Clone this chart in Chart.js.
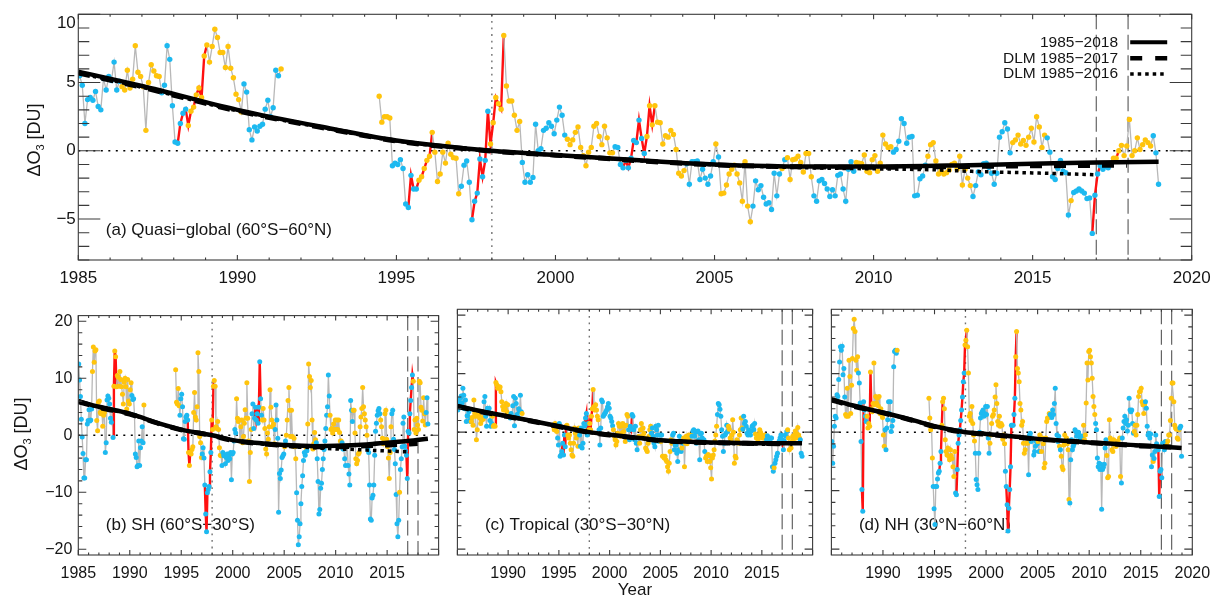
<!DOCTYPE html>
<html><head><meta charset="utf-8">
<script src="https://cdn.jsdelivr.net/npm/chart.js@4.4.1/dist/chart.umd.min.js"></script>
<style>
html,body{margin:0;padding:0;background:#fff;}
#wrap{position:relative;width:1220px;height:602px;overflow:hidden;background:#fff;}
canvas{position:absolute;}
</style></head><body>
<div id="wrap">
<canvas id="ca" width="1220" height="300" style="left:0;top:0;width:1220px;height:300px"></canvas>
<canvas id="cb" width="448" height="302" style="left:0;top:300px;width:448px;height:302px"></canvas>
<canvas id="cc" width="374" height="302" style="left:448px;top:300px;width:374px;height:302px"></canvas>
<canvas id="cd" width="398" height="302" style="left:822px;top:300px;width:398px;height:302px"></canvas>
</div>
<script>
// ---------------- DATA ----------------
const FIRST_YEAR = 1985;
const LATE_START = 113;           // first month index after the data gap
const xTickYears = [1985,1990,1995,2000,2005,2010,2015,2020];
const yTicksTop = [-5,0,5,10];
const yTicksBottom = [-20,-10,0,10,20];
const vLineDotted = [1998];
const vLinesDashed = [2017,2018];

// months (index from Jan 1985) drawn in yellow; all others blue
const yellowRanges = [[16,30],[41,61],[76,76],[113,117],[128,143],[155,166],[184,201],[214,228],[240,240],[242,253],[265,265],[267,276],[293,306],[320,336],[352,364],[374,374],[390,404]];

// red segments (month index ranges)
const redA = [[37,48],[124,133],[148,160],[205,217],[382,392]];
const redB = [[40,44],[126,131],[147,158],[205,212],[382,390]];
const redC = [[44,46],[123,128],[150,160],[204,206],[383,385]];
const redD = [[35,37],[44,46],[124,130],[145,157],[203,215],[380,384]];

// (a) quasi-global, monthly anomalies
const aEarly = [5.5,4.8,2.0,3.75,3.9,3.7,4.35,3.25,3.0,5.3,4.45,5.45,
 5.15,6.5,4.45,5.1,4.7,4.45,5.9,4.6,5.25,7.7,5.75,5.45,
 4.7,1.5,5.0,6.3,5.85,5.5,5.45,4.25,4.8,7.7,6.7,3.3,
 0.65,0.55,2.0,2.75,3.05,1.85,2.9,3.2,4.1,4.6,3.9,6.95,
 7.75,6.5,7.65,8.9,8.3,7.2,7.2,6.1,7.65,6.05,5.35,4.15,
 3.75,2.85,4.9,4.3,1.55,0.8,1.75,1.45,1.8,1.95,3.05,3.7,
 2.5,3.15,5.9,5.5,6.0];
const aLate = [4.0,2.1,2.5,2.5,2.4,-1.1,-0.9,
 -1.0,-0.65,-1.3,-3.9,-4.15,-1.8,-2.8,-2.8,-2.15,-1.9,-1.3,-0.7,
 -0.4,1.35,-0.1,-2.25,-1.7,-0.1,-0.9,0.55,-0.25,-0.5,-0.55,-3.15,
 -2.6,-1.05,-0.75,-2.3,-5.05,-3.7,-3.1,-0.6,-1.9,-0.7,2.9,0.5,
 2.05,3.9,3.45,3.05,8.45,4.75,3.65,3.65,2.6,1.5,2.15,-0.85,
 -2.3,-1.75,-2.3,-1.95,1.95,0.0,0.15,1.5,1.65,2.05,1.8,1.25,
 2.25,3.2,2.6,1.15,0.85,0.45,0.8,1.35,1.75,0.25,-0.35,-1.1,
 -0.1,0.25,1.8,2.0,1.05,0.45,1.8,0.95,-0.15,-0.15,0.3,0.25,
 -1.0,-1.25,-0.7,-1.25,-0.55,0.75,0.6,2.25,0.9,-0.2,1.05,3.3,
 1.9,3.3,2.1,2.05,0.5,1.1,1.0,1.5,1.2,0.1,-1.65,-1.85,
 -1.45,-0.95,-2.45,-0.8,-0.8,-0.75,-2.1,-1.35,-2.0,-2.45,-1.85,-0.8,
 0.5,-0.45,-3.15,-3.1,-2.5,-1.7,-1.35,-1.05,-1.7,-2.35,-3.7,-0.8,
 -4.05,-5.2,-4.05,-2.2,-2.85,-2.55,-3.4,-3.9,-3.8,-4.3,-1.65,-3.3,
 -1.7,-1.3,-0.65,-0.5,-2.1,-0.65,-0.6,-0.4,-0.85,-1.55,-0.2,-0.2,
 -1.9,-3.3,-3.7,-2.2,-2.1,-2.4,-2.8,-3.35,-2.85,-3.3,-1.8,-1.7,
 -2.8,-3.7,-1.35,-0.8,-1.5,-0.85,-0.9,-0.95,-0.3,-1.5,-1.6,-0.65,
 -0.35,-1.5,-0.9,1.15,0.5,0.25,0.3,-0.1,0.1,0.7,2.35,2.0,
 0.55,1.0,1.05,-3.3,-3.25,-2.05,-1.85,-1.05,-0.4,0.45,0.6,-0.75,
 -1.7,-1.5,-1.7,-1.6,-1.4,-1.0,-0.9,-1.35,-0.4,-2.5,-1.35,-2.0,
 -2.55,-3.35,-2.55,-1.55,-1.75,-0.95,-0.9,-1.2,-1.65,-2.45,-1.65,1.0,
 1.4,2.05,1.6,-0.15,0.6,0.8,1.15,0.5,0.75,0.4,1.0,1.65,
 0.65,2.5,1.75,0.25,1.15,0.95,-0.1,-1.9,-2.1,-1.3,-0.7,-1.5,
 -1.6,-4.7,-3.65,-3.05,-2.95,-2.8,-2.95,-3.1,-3.5,-3.45,-6.05,-3.25,
 -1.7,-1.1,-1.35,-1.15,-1.25,-0.9,-0.55,-0.55,0.0,0.4,-0.35,0.35,
 2.3,-0.35,0.0,0.95,0.1,0.45,0.8,0.6,0.35,1.1,-0.15,-2.45];

// (b) SH 60S-30S
const bEarly = [12.5,9.7,6.8,2.8,-0.3,-3.2,-7.5,-7.5,-4.3,-4.3,2.0,2.6,
 4.5,2.5,2.7,4.6,11.2,15.5,12.8,14.8,15.0,2.6,0.8,5.8,
 6.0,4.0,3.8,4.2,1.6,3.5,4.0,-3.0,-1.3,6.2,6.9,6.5,
 5.5,3.0,2.3,4.5,-0.4,8.6,14.8,13.8,8.5,10.5,10.2,8.6,
 11.2,9.8,8.5,7.2,5.5,9.3,10.0,8.5,4.6,9.8,6.0,5.5,
 8.0,9.2,7.0,6.3,6.4,3.5,-3.3,-3.9,-5.5,-5.3,-1.0,-5.3,
 -2.2,-1.0,1.5,-1.3,5.3];
const bLate = [11.5,5.8,5.5,8.2,5.2,3.5,6.4,
 7.2,5.0,-0.6,-0.7,2.4,3.2,3.5,2.7,-3.0,-5.3,-3.0,-3.3,
 -2.5,-2.0,4.0,7.5,3.2,2.7,5.0,14.5,11.2,-0.2,-1.3,-3.9,
 -3.3,-2.2,-4.0,-8.7,-13.8,-16.9,-10.1,-9.5,-9.0,-6.4,-3.0,2.7,
 1.0,8.6,9.6,8.6,1.5,1.2,2.4,1.0,-2.2,-3.5,-3.6,-5.3,
 -3.0,-3.6,-3.6,-5.0,-3.9,-3.3,-4.4,-3.6,-4.1,-3.0,-7.8,-3.3,
 -3.0,-1.0,1.0,0.4,6.4,3.0,2.4,2.7,-1.0,1.5,2.7,-1.3,
 -0.2,2.1,4.5,3.0,9.2,3.0,-1.0,-8.1,-3.0,1.0,3.8,5.5,
 1.2,3.0,4.9,2.7,3.8,2.1,4.9,12.9,6.4,3.5,2.7,4.7,
 2.7,1.2,-2.4,-3.3,0.4,-0.7,1.5,8.0,4.9,2.7,1.5,2.0,
 -1.5,1.0,5.3,2.7,-0.5,-13.5,-6.7,-7.6,-6.1,-3.9,-3.6,-3.3,
 -2.0,-1.0,0.0,2.7,6.1,8.4,4.4,-0.2,4.4,-0.2,-1.9,-0.5,
 -2.0,-4.1,-10.1,-14.9,-19.2,-17.8,-15.5,-12.0,-9.0,-7.1,-4.4,-3.0,
 -3.5,-2.2,-2.7,2.0,12.5,10.3,8.4,9.6,2.7,-2.4,-1.5,0.5,
 -0.8,-1.3,-4.1,-8.1,-13.8,-13.0,-9.3,-8.4,-6.0,-4.1,-2.5,-1.0,
 1.2,3.5,5.0,10.6,6.9,3.5,1.0,1.2,0.4,2.0,1.0,2.7,
 1.0,2.7,1.0,2.7,0.5,-1.0,-1.0,-1.3,-2.4,-2.4,-4.1,-5.3,
 -1.9,-1.9,-5.3,-6.8,-8.7,6.1,4.4,2.4,4.4,4.4,0.4,-4.1,
 -5.0,-4.4,-3.3,-3.0,1.5,3.2,4.7,8.4,5.0,3.8,2.7,1.5,
 0.0,-2.4,-3.0,-8.7,-14.7,-14.9,-11.0,-10.5,-8.7,-3.5,0.7,2.1,
 3.5,4.3,4.7,3.8,2.7,1.5,-0.5,-1.5,-0.7,3.8,4.4,-0.7,
 -2.0,-4.0,-7.6,-3.0,1.5,3.8,4.4,-0.7,-2.5,-5.0,-10.4,-15.5,
 -17.8,-14.9,-10.0,-6.0,-4.1,-2.0,2.1,3.2,-1.9,-2.7,-3.5,-7.6,
 0.7,0.4,3.8,6.1,8.4,10.6,9.5,1.0,2.7,0.4,3.0,1.8,
 1.0,9.5,9.2,4.9,4.4,2.5,6.6,3.8,1.8,4.0,6.6,2.0];

// (c) Tropical 30S-30N
const cEarly = [3.8,5.2,4.5,5.8,6.2,5.0,7.5,6.3,4.0,5.5,1.8,2.8,
 2.7,3.5,2.0,1.8,1.8,2.5,1.2,5.5,3.2,2.7,-1.3,0.4,
 2.7,3.0,2.4,1.5,2.0,2.5,2.2,5.2,6.1,2.7,1.0,4.1,
 3.5,4.1,2.0,1.0,1.5,2.7,1.0,1.2,1.0,8.5,8.1,7.5,
 7.8,7.5,7.7,6.9,5.2,4.4,3.8,4.4,4.0,4.9,3.5,4.7,
 2.7,3.0,2.4,3.2,2.7,4.5,6.1,1.1,5.8,4.9,3.0,2.6,
 4.0,3.5,6.3,3.5,3.2];
const cLate = [1.0,0.4,1.5,0.7,0.1,-1.0,-2.2,
 1.5,-4.1,-3.9,-3.3,-1.9,-3.9,-0.5,-2.5,1.0,1.2,-0.5,-1.0,
 -0.5,-1.9,-3.0,-3.9,-4.1,-1.9,0.7,-0.2,-1.0,-0.5,-2.4,0.7,
 -0.5,-2.4,0.7,-2.7,-1.9,1.5,1.0,2.4,3.2,-0.5,1.5,0.4,
 1.5,0.4,2.7,4.0,7.3,4.4,3.8,4.7,3.8,2.7,2.1,0.4,
 -2.2,0.7,5.5,5.2,2.7,3.0,3.2,3.5,3.8,4.3,4.9,4.1,
 2.7,2.4,1.8,1.1,0.4,-0.7,-1.3,-2.2,-1.6,-0.2,1.5,1.0,
 -0.7,1.0,-0.2,1.5,0.1,1.0,-1.6,1.2,3.0,2.7,0.4,-1.3,
 1.0,0.5,3.0,2.7,0.4,-1.3,1.0,-1.9,-3.0,-1.0,-0.7,-1.9,
 0.4,1.5,-0.7,0.7,-0.2,-1.0,-2.7,-3.0,-3.3,-1.9,-0.7,0.4,
 1.0,-0.2,0.7,-0.7,-1.9,-2.5,1.0,0.4,-0.5,1.2,-1.6,-0.5,
 -1.6,-0.5,-4.1,-4.1,-4.4,-4.1,-4.7,-5.0,-5.9,-6.7,-5.3,-3.3,
 -1.3,-1.9,-0.5,-0.2,-3.0,-2.2,-2.2,-3.6,-5.0,-3.0,-0.7,-1.5,
 -3.3,-2.7,-1.9,-1.0,-5.9,-1.9,-0.7,-2.0,-1.0,-0.5,-1.5,-0.7,
 -0.5,-0.7,0.2,0.4,-0.7,0.0,-1.9,0.1,0.2,-1.3,-4.7,-0.3,
 -0.2,-1.0,-1.5,-1.3,-3.3,-4.4,-4.1,-5.0,-3.8,-4.0,-5.0,-6.1,
 -8.0,-4.4,-3.9,-3.0,-1.5,-0.5,1.0,3.0,4.9,4.7,3.9,2.7,
 0.4,-0.7,-3.3,-1.9,-0.5,-0.2,1.2,0.1,1.0,0.5,-1.0,-1.3,
 -0.5,2.1,0.0,-5.3,-4.1,-4.4,-1.3,-1.6,-1.9,-0.5,0.4,2.4,
 0.7,0.5,2.7,1.5,1.8,1.0,-0.2,-0.5,0.4,0.0,-0.5,0.2,
 1.0,1.2,0.4,1.5,-0.3,-1.0,-0.5,-1.3,-0.6,0.4,0.0,-0.5,
 -1.0,-0.8,-1.0,-0.5,-0.8,-1.3,-0.6,-0.9,-1.0,-1.2,-1.0,-1.0,
 -5.9,-6.7,-6.1,-5.3,-4.7,-4.1,-3.6,-1.9,-1.5,-1.0,-0.5,-1.2,
 -1.6,-3.0,-1.5,-0.5,-0.7,0.1,0.4,-1.0,-3.0,-1.9,-2.7,-1.6,
 -0.7,-1.2,-0.5,0.2,-1.0,-0.3,0.8,-0.5,-1.0,-1.3,-3.6,-4.1];

// (d) NH 30N-60N
const dEarly = [-1.6,-5.3,-2.4,1.0,2.7,2.4,6.4,6.1,9.0,12.0,14.6,14.0,
 14.7,9.8,10.9,6.0,3.0,2.7,7.5,2.7,12.3,9.5,3.2,8.0,
 12.6,17.7,19.3,17.2,12.3,10.6,12.9,10.1,8.4,5.0,-1.6,-9.8,
 -13.5,5.2,3.8,2.7,1.8,2.7,0.7,1.5,1.0,10.3,4.0,3.5,
 4.9,11.8,4.7,6.1,5.0,5.8,4.5,6.1,3.2,4.0,3.0,2.5,
 -0.5,-2.4,0.4,-3.0,0.7,2.1,5.2,3.2,5.2,0.1,1.0,2.0,
 11.2,13.8,14.0,13.5,14.0];
const dLate = [5.8,2.4,0.4,1.0,-4.4,-9.3,-13.1,
 -15.8,-9.3,-9.3,-8.0,-7.0,-6.7,-5.3,-3.3,1.2,5.2,5.8,4.0,
 -1.3,-3.3,-3.9,-2.7,-4.1,-4.7,-3.0,-4.0,-4.5,-5.9,-7.6,-3.3,
 -10.4,-10.7,-6.4,-1.9,-0.5,0.4,2.0,3.8,6.0,8.6,10.1,14.9,
 15.7,17.4,14.6,10.1,2.7,3.2,2.0,4.4,1.5,-0.5,-1.5,-3.6,
 -8.1,-9.0,-9.8,-3.6,0.0,2.4,3.2,3.5,3.8,2.7,3.2,4.4,
 3.0,4.4,-1.0,-3.6,-1.9,-0.5,1.5,2.7,3.0,3.8,6.0,8.1,
 4.9,1.8,1.2,2.7,1.0,1.5,1.2,-1.2,-0.5,-2.0,-6.7,-9.3,
 -12.4,-16.9,-13.0,-9.8,-5.9,1.2,1.2,1.2,3.0,5.8,12.9,17.2,
 10.9,10.1,8.6,4.9,3.8,1.2,1.8,-1.9,-3.6,-3.0,-1.9,-1.0,
 -1.9,-7.3,-0.5,-0.2,-1.6,-1.0,-1.2,-3.9,-3.3,-2.4,-1.6,-2.0,
 -1.6,-3.3,-0.5,-1.0,-3.3,-1.0,-2.0,-6.1,-5.3,-1.0,1.8,2.4,
 2.4,3.2,3.0,3.0,2.5,3.8,3.0,4.9,7.5,1.5,-0.5,-1.6,
 -0.7,-2.4,-3.0,-4.1,-5.9,-6.4,-2.2,-0.5,-1.9,-1.0,-2.0,-3.0,
 -11.5,-12.1,-4.7,-1.3,-3.0,-2.4,-2.0,0.4,0.1,-0.7,-0.2,0.0,
 -0.5,-1.0,-0.7,-1.0,-0.7,1.2,-1.3,-0.5,5.0,11.8,8.9,13.8,
 14.0,12.9,11.8,9.2,6.1,4.4,3.0,1.5,0.4,-4.4,-5.9,-5.3,
 -6.4,-5.5,-13.2,-6.4,-6.0,-5.5,-2.7,-1.3,-4.0,-7.8,-7.6,2.1,
 -1.0,-1.6,-3.0,-3.3,-1.3,-2.2,-2.4,-2.4,-2.0,-1.5,-2.0,-1.0,
 -7.6,-8.7,-1.0,0.7,1.8,2.7,1.5,2.1,0.2,1.2,5.8,3.8,
 3.5,3.8,1.5,-0.2,0.1,1.2,-0.5,1.2,3.0,6.1,6.9,7.0,
 7.5,5.2,4.7,3.2,4.7,5.2,4.1,1.0,-0.5,-0.2,-1.0,-0.3,
 -5.9,-3.9,-5.0,-4.5,-3.3,-0.5,-2.0,-2.5,-3.0,-11.0,-6.7,-6.4,
 -7.8,-1.9,-2.0,-3.0,-1.6,-1.9,-2.2,-1.5,-0.5,-0.5,2.0,5.8,
 8.4,8.4,5.2,1.2,0.7,0.5,-1.0,-1.2,0.4,0.7,1.0,-4.1];

// fitted trends (solid 1985-2018, dashed DLM 1985-2017, dotted DLM 1985-2016)
const trendYears = [1985,1987,1990,1993,1995,1998,2000,2003,2005,2008,2010,2013,2015,2017,2018.96];
const dashYears  = [1985,1987,1990,1993,1995,1998,2000,2003,2005,2008,2010,2013,2015,2017.96];
const dotYears   = [1985,1987,1990,1993,1995,1998,2000,2003,2005,2008,2010,2012,2013,2015,2016.96];
const aSolid = [5.8,4.75,3.0,1.6,0.75,0.0,-0.3,-0.75,-1.0,-1.15,-1.15,-1.05,-0.95,-0.85,-0.8];
const aDash  = [5.7,4.65,2.92,1.55,0.72,-0.02,-0.32,-0.78,-1.03,-1.18,-1.2,-1.15,-1.1,-1.05];
const aDot   = [5.7,4.65,2.92,1.55,0.72,-0.02,-0.32,-0.78,-1.03,-1.25,-1.32,-1.4,-1.5,-1.62,-1.75];
const bSolid = [6.0,5.0,3.8,2.0,1.0,0.0,-0.85,-1.45,-1.7,-1.9,-1.85,-1.6,-1.3,-1.0,-0.6];
const bDash  = [5.9,4.9,3.7,1.95,0.95,-0.05,-0.9,-1.5,-1.8,-2.0,-2.0,-1.85,-1.7,-1.45];
const bDot   = [5.9,4.9,3.7,1.95,0.95,-0.05,-0.9,-1.55,-1.9,-2.2,-2.4,-2.5,-2.6,-2.75,-2.9];
const cSolid = [4.5,3.7,2.7,1.7,1.0,0.0,-0.45,-1.0,-1.4,-1.65,-1.75,-1.85,-1.9,-1.9,-1.9];
const cDash  = [4.4,3.6,2.65,1.65,0.95,-0.05,-0.5,-1.05,-1.45,-1.7,-1.8,-1.9,-1.95,-2.0];
const cDot   = [4.4,3.6,2.65,1.65,0.95,-0.05,-0.5,-1.05,-1.45,-1.75,-1.85,-1.95,-2.0,-2.05,-2.1];
const dSolid = [5.6,4.6,3.35,2.0,1.0,0.0,-0.3,-0.8,-1.15,-1.5,-1.75,-2.05,-2.3,-2.5,-2.7];
const dDash  = [5.5,4.5,3.3,1.95,0.95,-0.05,-0.35,-0.85,-1.2,-1.55,-1.8,-2.1,-2.35,-2.55];
const dDot   = [5.5,4.5,3.3,1.95,0.95,-0.05,-0.35,-0.85,-1.2,-1.6,-1.85,-2.0,-2.1,-2.35,-2.5];

const legendLabels = ['1985\u22122018','DLM 1985\u22122017','DLM 1985\u22122016'];
const panelLabels = ['(a) Quasi\u2212global (60\u00B0S\u221260\u00B0N)','(b) SH (60\u00B0S\u221230\u00B0S)','(c) Tropical (30\u00B0S\u221230\u00B0N)','(d) NH (30\u00B0N\u221260\u00B0N)'];

// ---------------- DRAWING ----------------
const FONT = '"Liberation Sans", Arial, Helvetica, sans-serif';
const BLUE = '#1DB9F0', YELLOW = '#FFC40C', GRAY = '#B8B8B8', RED = '#FF1010', INK = '#151515';
Chart.defaults.font.family = FONT;

function monthX(i){ return FIRST_YEAR + (i + 0.5) / 12; }
function buildSeries(early, late){
  const pts = [];
  const last = LATE_START + late.length - 1;
  for (let i = 0; i <= last; i++){
    let y = null;
    if (i < early.length) y = early[i];
    else if (i >= LATE_START) y = late[i - LATE_START];
    pts.push({x: monthX(i), y: y});
  }
  return pts;
}
function inRanges(r, i){ return r.some(function(p){ return i >= p[0] && i <= p[1]; }); }
function pairs(xs, ys){ return ys.map(function(v, k){ return {x: xs[k], y: v}; }); }

function trendSets(solid, dash, dot){
  return [
    {data: pairs(trendYears, solid), borderColor:'#000', borderWidth:4.5, pointRadius:0, cubicInterpolationMode:'monotone', borderCapStyle:'butt', order:0},
    {data: pairs(dashYears, dash), borderColor:'#000', borderWidth:5, borderDash:[12,12], pointRadius:0, cubicInterpolationMode:'monotone', borderCapStyle:'butt', order:1},
    {data: pairs(dotYears, dot), borderColor:'#000', borderWidth:3.5, borderDash:[3.5,4], pointRadius:0, cubicInterpolationMode:'monotone', borderCapStyle:'butt', order:2}
  ];
}
function dataSet(early, late, reds, radius){
  const pts = buildSeries(early, late);
  const cols = pts.map(function(p, i){ return inRanges(yellowRanges, i) ? YELLOW : BLUE; });
  function isRed(c){ return reds.some(function(p){ return c.p0DataIndex >= p[0] && c.p1DataIndex <= p[1]; }); }
  return {
    data: pts, borderColor: GRAY, borderWidth: 1.3, spanGaps: false,
    pointRadius: radius, pointHoverRadius: 0, pointBorderWidth: 0,
    pointBackgroundColor: cols, pointBorderColor: cols,
    segment: {
      borderColor: function(c){ return isRed(c) ? RED : GRAY; },
      borderWidth: function(c){ return isRed(c) ? 2.4 : 1.3; }
    },
    order: 10
  };
}

function drawYTitle(ctx, cx, cy, size){
  ctx.save();
  ctx.translate(cx, cy); ctx.rotate(-Math.PI/2);
  const f = size + 'px ' + FONT, fs = Math.round(size*0.62) + 'px ' + FONT;
  ctx.font = f; const w1 = ctx.measureText('\u0394O').width; const w3 = ctx.measureText(' [DU]').width;
  ctx.font = fs; const w2 = ctx.measureText('3').width;
  let xx = -(w1 + w2 + w3)/2;
  ctx.fillStyle = INK; ctx.textBaseline = 'middle'; ctx.textAlign = 'left';
  ctx.font = f; ctx.fillText('\u0394O', xx, 0); xx += w1;
  ctx.font = fs; ctx.fillText('3', xx, size*0.33); xx += w2;
  ctx.font = f; ctx.fillText(' [DU]', xx, 0);
  ctx.restore();
}

function decor(o){
  return {
    id: 'decor',
    beforeDatasetsDraw: function(chart){
      const ctx = chart.ctx, a = chart.chartArea, x = chart.scales.x, y = chart.scales.y;
      ctx.save();
      ctx.beginPath(); ctx.rect(a.left, a.top, a.right - a.left, a.bottom - a.top); ctx.clip();
      // panel label
      ctx.fillStyle = INK; ctx.font = '17px ' + FONT; ctx.textAlign = 'left'; ctx.textBaseline = 'middle';
      ctx.fillText(o.label, a.left + 27.5, a.bottom - 29.5);
      // zero line
      const y0 = y.getPixelForValue(0);
      ctx.strokeStyle = '#000'; ctx.lineWidth = 1.5; ctx.setLineDash([2, 5.5]);
      ctx.beginPath(); ctx.moveTo(a.left, y0); ctx.lineTo(a.right, y0); ctx.stroke();
      // dotted vertical
      ctx.strokeStyle = '#707070'; ctx.lineWidth = 1.4; ctx.setLineDash([1.8, 4.8]);
      vLineDotted.forEach(function(v){ const px = x.getPixelForValue(v); ctx.beginPath(); ctx.moveTo(px, a.top); ctx.lineTo(px, a.bottom); ctx.stroke(); });
      // dashed verticals
      ctx.strokeStyle = '#555'; ctx.lineWidth = 1.1; ctx.setLineDash([15, 5.5]);
      vLinesDashed.forEach(function(v){ const px = x.getPixelForValue(v); ctx.beginPath(); ctx.moveTo(px, a.top); ctx.lineTo(px, a.bottom); ctx.stroke(); });
      ctx.restore();
    },
    afterDatasetsDraw: function(chart){
      const ctx = chart.ctx, a = chart.chartArea, x = chart.scales.x, y = chart.scales.y;
      ctx.save();
      ctx.setLineDash([]);
      ctx.strokeStyle = '#3a3a3a'; ctx.lineWidth = 1.1;
      ctx.strokeRect(a.left, a.top, a.right - a.left, a.bottom - a.top);
      ctx.beginPath();
      // x ticks (every year, major every 5)
      for (let yr = 1985; yr <= 2020; yr++){
        const px = x.getPixelForValue(yr);
        const L = (yr % 5 === 0) ? o.xMaj : o.xMin;
        ctx.moveTo(px, a.bottom); ctx.lineTo(px, a.bottom - L);
        ctx.moveTo(px, a.top); ctx.lineTo(px, a.top + L);
      }
      // y ticks
      for (let v = o.yMin; v <= o.yMax + 1e-9; v += o.yMinor){
        const py = y.getPixelForValue(v);
        const L = (Math.abs(v % o.yMajor) < 1e-9) ? o.yMajL : o.yMinL;
        ctx.moveTo(a.left, py); ctx.lineTo(a.left + L, py);
        ctx.moveTo(a.right, py); ctx.lineTo(a.right - L, py);
      }
      ctx.stroke();
      if (o.legend){
        const tx = a.right - 73.7, x1 = a.right - 61.5, x2 = a.right - 24.5;
        const rows = [a.top + 28, a.top + 44, a.top + 59.7];
        ctx.fillStyle = INK; ctx.font = '15.5px ' + FONT; ctx.textAlign = 'right'; ctx.textBaseline = 'middle';
        const styles = [{d:[], w:4}, {d:[12,13], w:4.5}, {d:[3.5,4], w:3.5}];
        rows.forEach(function(ry, k){
          ctx.fillText(legendLabels[k], tx, ry);
          ctx.strokeStyle = '#000'; ctx.lineWidth = styles[k].w; ctx.setLineDash(styles[k].d); ctx.lineCap = 'butt';
          ctx.beginPath(); ctx.moveTo(x1, ry); ctx.lineTo(x2, ry); ctx.stroke();
        });
        ctx.setLineDash([]);
      }
      if (o.topLabel){
        ctx.fillStyle = INK; ctx.font = o.tickFont + 'px ' + FONT; ctx.textAlign = 'right'; ctx.textBaseline = 'middle';
        ctx.fillText(o.topLabel, a.left - 2.5, a.top + 8.7);
      }
      if (o.ytitle) drawYTitle(ctx, o.ytitle[0], o.ytitle[1], 18);
      if (o.xtitle){
        ctx.fillStyle = INK; ctx.font = '17px ' + FONT; ctx.textAlign = 'center'; ctx.textBaseline = 'middle';
        ctx.fillText('Year', (a.left + a.right)/2, o.xtitle);
      }
      ctx.restore();
    }
  };
}

function fmt(v){ return v < 0 ? '\u2212' + Math.abs(v) : String(v); }

function makeChart(id, cfg){
  const el = document.getElementById(id);
  return new Chart(el.getContext('2d'), {
    type: 'line',
    data: { datasets: cfg.datasets },
    options: {
      responsive: false, animation: false, devicePixelRatio: 1, events: [],
      layout: { padding: { top: cfg.padTop, right: cfg.padRight, left: 0, bottom: 0 } },
      plugins: { legend: { display: false }, tooltip: { enabled: false } },
      scales: {
        x: {
          type: 'linear', min: 1985, max: 2020,
          afterBuildTicks: function(s){ s.ticks = xTickYears.map(function(v){ return {value: v}; }); },
          afterFit: function(s){ s.height = cfg.xH; },
          grid: { display: false, drawTicks: false }, border: { display: false },
          ticks: { autoSkip: false, maxRotation: 0, padding: cfg.xPad, color: INK, font: { size: cfg.tickFont },
            callback: function(v){ return cfg.hideX.indexOf(v) >= 0 ? '' : String(v); } }
        },
        y: {
          type: 'linear', min: cfg.yMin, max: cfg.yMax,
          afterBuildTicks: function(s){ s.ticks = cfg.yTicks.map(function(v){ return {value: v}; }); },
          afterFit: function(s){ s.width = cfg.yW; },
          grid: { display: false, drawTicks: false }, border: { display: false },
          ticks: { display: cfg.showY, padding: cfg.yPad, color: INK, font: { size: cfg.tickFont },
            callback: function(v){ return cfg.hideY.indexOf(v) >= 0 ? '' : fmt(v); } }
        }
      }
    },
    plugins: [decor(cfg.decor)]
  });
}

// (a)
makeChart('ca', {
  datasets: trendSets(aSolid, aDash, aDot).concat([dataSet(aEarly, aLate, redA, 2.7)]),
  padTop: 14.3, padRight: 28.3, xH: 40, yW: 78.3, xPad: 7.8, yPad: 2.5, tickFont: 17,
  yMin: -8, yMax: 10, yTicks: yTicksTop, hideX: [], hideY: [10], showY: true,
  decor: { label: panelLabels[0], yMin: -8, yMax: 10, yMinor: 1, yMajor: 5, yMajL: 22, yMinL: 11, xMaj: 5, xMin: 2.5,
           legend: true, topLabel: '10', tickFont: 17, ytitle: [35, 140] }
});
// (b)
makeChart('cb', {
  datasets: trendSets(bSolid, bDash, bDot).concat([dataSet(bEarly, bLate, redB, 2.5)]),
  padTop: 9.3, padRight: 6.3, xH: 47, yW: 78.3, xPad: 9.4, yPad: 6, tickFont: 16,
  yMin: -21, yMax: 21, yTicks: yTicksBottom, hideX: [2020], hideY: [], showY: true,
  decor: { label: panelLabels[1], yMin: -20, yMax: 20, yMinor: 2, yMajor: 10, yMajL: 8, yMinL: 4, xMaj: 5, xMin: 2.5, ytitle: [22, 134] }
});
// (c)
makeChart('cc', {
  datasets: trendSets(cSolid, cDash, cDot).concat([dataSet(cEarly, cLate, redC, 2.5)]),
  padTop: 9.3, padRight: 4.7, xH: 47, yW: 5.3, xPad: 9.4, yPad: 6, tickFont: 16,
  yMin: -21, yMax: 21, yTicks: yTicksBottom, hideX: [1985, 2020], hideY: [], showY: false,
  decor: { label: panelLabels[2], yMin: -20, yMax: 20, yMinor: 2, yMajor: 10, yMajL: 8, yMinL: 4, xMaj: 5, xMin: 2.5, xtitle: 290 }
});
// (d)
makeChart('cd', {
  datasets: trendSets(dSolid, dDash, dDot).concat([dataSet(dEarly, dLate, redD, 2.5)]),
  padTop: 9.3, padRight: 27.7, xH: 47, yW: 6.3, xPad: 9.4, yPad: 6, tickFont: 16,
  yMin: -21, yMax: 21, yTicks: yTicksBottom, hideX: [1985], hideY: [], showY: false,
  decor: { label: panelLabels[3], yMin: -20, yMax: 20, yMinor: 2, yMajor: 10, yMajL: 8, yMinL: 4, xMaj: 5, xMin: 2.5 }
});
</script>
</body></html>
